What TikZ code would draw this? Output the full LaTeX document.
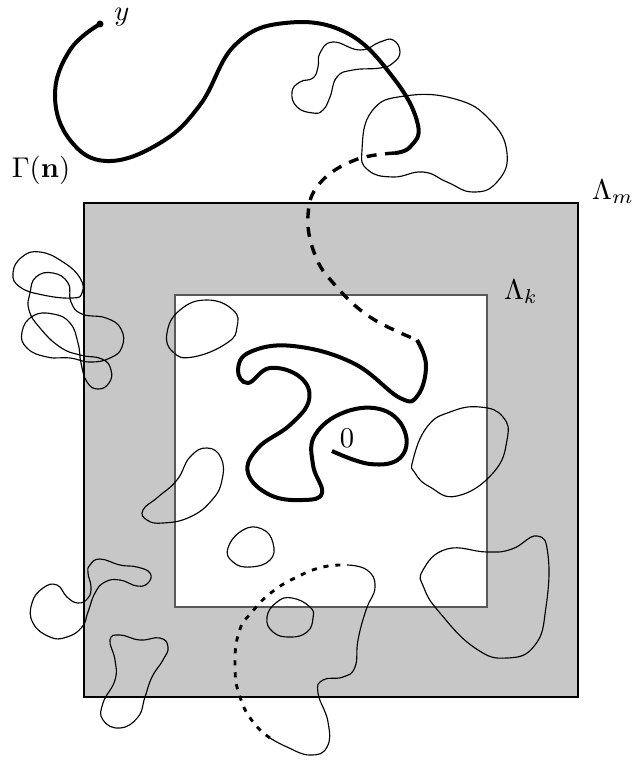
\documentclass[tikz,border=0pt]{standalone}

\begin{document}
\begin{tikzpicture}[x=0.35pt,y=-0.35pt,
  thinloop/.style={line width=0.4pt},
  thickwalk/.style={line width=1.4pt},
  dashwalk/.style={line width=1.2pt,dash pattern=on 3.5pt off 3pt},
  dotwalk/.style={line width=1pt,dash pattern=on 1.8pt off 2.4pt}]
  \useasboundingbox (0,0) rectangle (633,760);
  \filldraw[fill=black!22, draw=black, line width=0.4pt] (84,203) rectangle (578,697);
  \filldraw[fill=white, draw=black!65, line width=0.4pt] (175,295) rectangle (487,607);

  \draw[thinloop] plot[smooth cycle, tension=0.8] coordinates {(320,53) (333,42) (360,50) (380,42) (393,40) (400,52)
    (393,63) (380,68) (353,70) (337,77) (330,97) (323,110) (313,113) (297,107) (292,92) (300,82) (313,78) (318,67)};
  \draw[thinloop] plot[smooth cycle, tension=0.8] coordinates {(362,150) (372,111) (405,96) (455,99) (490,120)
    (507,153) (497,182) (473,192) (447,182) (423,172) (393,177) (368,170)};
  \draw[thinloop] plot[smooth cycle, tension=0.8] coordinates {(13,273) (22,257) (40,252) (63,262) (80,278) (82,293)
    (72,298) (43,295) (20,287)};
  \draw[thinloop] plot[smooth cycle, tension=0.8] coordinates {(30,293) (36,277) (53,273) (68,283) (71,302) (82,314)
    (106,318) (121,329) (122,347) (110,358) (90,362) (70,358) (47,357) (27,348) (22,332) (33,316) (53,314)
    (70,323) (78,343) (81,363) (87,382) (98,389) (109,383) (111,370) (102,359) (80,355) (60,347) (40,328) (29,310)};
  \draw[thinloop] plot[smooth cycle, tension=0.8] coordinates {(167,333) (180,310) (207,300) (233,310) (237,327)
    (227,343) (193,357) (173,352)};
  \draw[thinloop] plot[smooth cycle, tension=0.8] coordinates {(143,510) (158,497) (177,480) (190,457)
    (207,448) (221,458) (222,480) (212,500) (190,517) (163,523) (147,520)};
  \draw[thinloop] plot[smooth cycle, tension=0.8] coordinates {(228,548) (243,530) (262,529) (273,543) (270,560)
    (250,567) (233,562)};
  \draw[thinloop] plot[smooth cycle, tension=0.8] coordinates {(90,565) (100,559) (120,565) (137,567) (150,573)
    (148,583) (137,586) (120,580) (105,582) (95,593) (88,612) (82,627) (67,637) (50,637) (33,623)
    (32,603) (43,588) (57,585) (67,597) (78,603) (88,598) (91,587) (88,573)};
  \draw[thinloop] plot[smooth cycle, tension=0.8] coordinates {(110,640) (120,635) (140,640) (160,638) (168,647)
    (163,660) (152,677) (145,697) (138,717) (120,728) (103,720) (103,703) (115,680) (115,660)};
  \draw[thinloop] plot[smooth cycle, tension=0.8] coordinates {(267,617) (277,602) (292,598) (310,607) (313,618)
    (307,632) (290,637) (273,632)};
  \draw[thinloop] plot[smooth cycle, tension=0.8] coordinates {(413,460) (427,427) (450,412) (480,407) (503,417)
    (507,440) (493,473) (457,496) (430,487) (415,473)};
  \draw[thinloop] plot[smooth cycle, tension=0.8] coordinates {(423,570) (447,549) (487,552) (512,549)
    (537,536) (548,555) (546,607) (535,645) (507,658) (475,648) (440,613) (424,588)};
  \draw[thinloop] plot[smooth, tension=0.8] coordinates {(347,565) (367,570) (375,587) (366,610) (358,640)
    (355,667) (343,677) (323,680) (318,693) (328,722) (327,747) (310,755) (287,747) (270,738)};
  \draw[dotwalk] plot[smooth, tension=0.8] coordinates {(270,738) (253,722) (240,697) (235,667)
    (239,632) (252,612) (272,592) (297,577) (323,567) (347,565)};

  \draw[thickwalk] plot[smooth, tension=0.7] coordinates {(100,24) (70,50) (55,95) (70,140) (107,161)
    (160,143) (200,105) (235,45) (285,23) (347,33) (395,80) (418,125) (410,147) (395,153)};
  \draw[dashwalk] plot[smooth, tension=0.7] coordinates {(395,153) (355,160) (320,183) (308,215) (315,255)
    (335,285) (370,317) (417,340)};
  \draw[thickwalk] plot[smooth, tension=0.7] coordinates {(417,340) (426,365) (418,395) (400,398) (353,363)
    (293,346) (250,352) (238,370) (248,383) (270,368) (300,377) (309,400) (290,425) (258,448) (248,473)
    (270,495) (303,500) (322,493) (313,465) (315,435) (345,412) (383,410) (405,432) (400,458) (370,464) (332,451)};
  \fill (100,24) circle (3.5);

  \node (ylab) at (122,17) {$y$};
  \node (gam) at (41,170) {$\Gamma(\mathbf{n})$};
  \node (lamm) at (613,192) {$\Lambda_m$};
  \node (lamk) at (521,292) {$\Lambda_k$};
  \node (orig) at (347,438) {$0$};
\end{tikzpicture}
\end{document}
